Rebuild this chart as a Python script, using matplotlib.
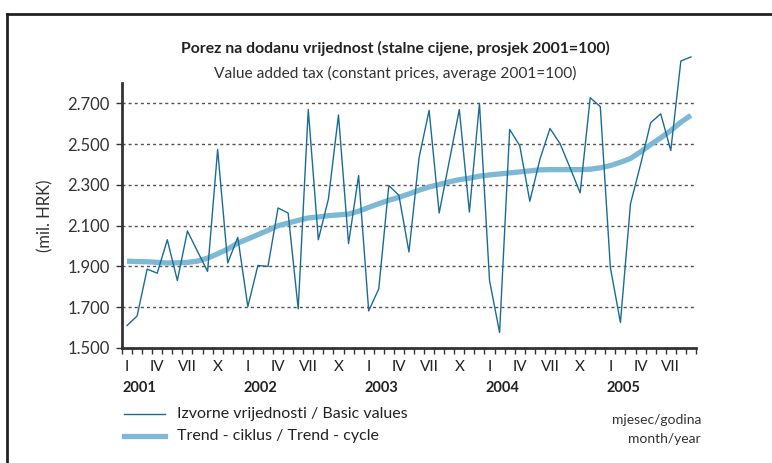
import matplotlib
matplotlib.use("Agg")
import matplotlib.pyplot as plt
from matplotlib.lines import Line2D
from matplotlib.transforms import blended_transform_factory
import numpy as np

plt.rcParams['font.family'] = ['Lato', 'DejaVu Sans']

# monthly data, Jan 2001 - Sep 2005 (mil. HRK)
basic_values = [1610, 1657, 1887, 1867, 2031, 1831, 2074, 1974, 1876, 2474, 1917, 2043,
                1703, 1905, 1900, 2187, 2162, 1692, 2670, 2031, 2231, 2643, 2012, 2346,
                1682, 1790, 2297, 2249, 1971, 2433, 2666, 2162, 2416, 2670, 2167, 2700,
                1831, 1576, 2572, 2493, 2220, 2425, 2577, 2503, 2384, 2261, 2728, 2684,
                1895, 1625, 2208, 2400, 2605, 2649, 2469, 2908, 2928]
trend_cycle = [1926, 1924, 1923, 1920, 1917, 1918, 1920, 1926, 1941, 1962, 1985, 2015,
               2035, 2056, 2077, 2100, 2113, 2126, 2138, 2143, 2149, 2153, 2157, 2171,
               2190, 2208, 2225, 2239, 2256, 2274, 2290, 2302, 2315, 2326, 2333, 2343,
               2349, 2354, 2359, 2364, 2369, 2374, 2375, 2375, 2375, 2375, 2377, 2384,
               2395, 2411, 2430, 2462, 2498, 2531, 2567, 2608, 2641]
month_labels = ["I", "IV", "VII", "X"]
years = ["2001", "2002", "2003", "2004", "2005"]
y_ticks = [1500, 1700, 1900, 2100, 2300, 2500, 2700]

fig = plt.figure(figsize=(7.72, 4.63), dpi=100)
ax = fig.add_axes([0.158, 0.2484, 0.7435, 0.5723])

x = np.arange(len(basic_values))
ax.plot(x, trend_cycle, color='#7db9d5', lw=3.8, solid_capstyle='butt', clip_on=False, zorder=3)
ax.plot(x, basic_values, color='#1a6c96', lw=1.0, clip_on=False, zorder=4)

ax.set_xlim(-0.5, len(basic_values) - 0.5)
ax.set_ylim(1500, 2800)
ax.set_yticks(y_ticks)
ax.set_yticklabels([f"{v:,}".replace(",", ".") for v in y_ticks], fontsize=12, color='#333333')
for v in y_ticks[1:]:
    ax.axhline(v, color='#555555', lw=1.0, ls=(0, (2.2, 2.2)), zorder=1)

ax.set_xticks(np.arange(-0.5, len(basic_values), 1.0))
ax.set_xticklabels([])
ax.tick_params(axis='x', direction='out', length=4, width=1, color='#333333')
ax.tick_params(axis='y', direction='out', length=4, width=1, color='#333333', pad=5)

for s in ['top', 'right']:
    ax.spines[s].set_visible(False)
for s in ['left', 'bottom']:
    ax.spines[s].set_linewidth(2)
    ax.spines[s].set_color('#333333')

trans = blended_transform_factory(ax.transData, fig.transFigure)
for yi, year in enumerate(years):
    for mi, lab in enumerate(month_labels):
        idx = yi * 12 + mi * 3
        if idx < len(basic_values):
            fig.text(idx, 1 - 367 / 463, lab, transform=trans, ha='center', va='center',
                     fontsize=11, color='#222222')
    fig.text(yi * 12 - 0.4, 1 - 388 / 463, year, transform=trans, ha='left', va='center',
             fontsize=10.5, fontweight='bold', color='#222222')

ax.set_ylabel("(mil. HRK)", fontsize=12, color='#333333', labelpad=10)

fig.text(0.512, 1 - 48 / 463, "Porez na dodanu vrijednost (stalne cijene, prosjek 2001=100)",
         ha='center', va='center', fontsize=11.3, fontweight='bold', color='#222222')
fig.text(0.512, 1 - 73 / 463, "Value added tax (constant prices, average 2001=100)",
         ha='center', va='center', fontsize=11.2, color='#333333')

# legend drawn by hand below the axis
fig.add_artist(Line2D([124 / 772, 165 / 772], [1 - 414 / 463] * 2, color='#1a6c96', lw=1.0))
fig.add_artist(Line2D([124 / 772, 165 / 772], [1 - 436 / 463] * 2, color='#7db9d5', lw=3.8))
fig.text(177 / 772, 1 - 414 / 463, "Izvorne vrijednosti / Basic values", ha='left', va='center',
         fontsize=11.5, color='#222222')
fig.text(177 / 772, 1 - 436 / 463, "Trend - ciklus / Trend - cycle", ha='left', va='center',
         fontsize=11.5, color='#222222')
fig.text(701 / 772, 1 - 420 / 463, "mjesec/godina", ha='right', va='center', fontsize=10, color='#333333')
fig.text(701 / 772, 1 - 439 / 463, "month/year", ha='right', va='center', fontsize=10, color='#333333')

# outer frame
fig.add_artist(Line2D([7 / 772, 7 / 772], [0, 1 - 14 / 463], color='#222222', lw=2))
fig.add_artist(Line2D([7 / 772, 1], [1 - 14 / 463] * 2, color='#222222', lw=2))

fig.savefig("out.png", dpi=100)
